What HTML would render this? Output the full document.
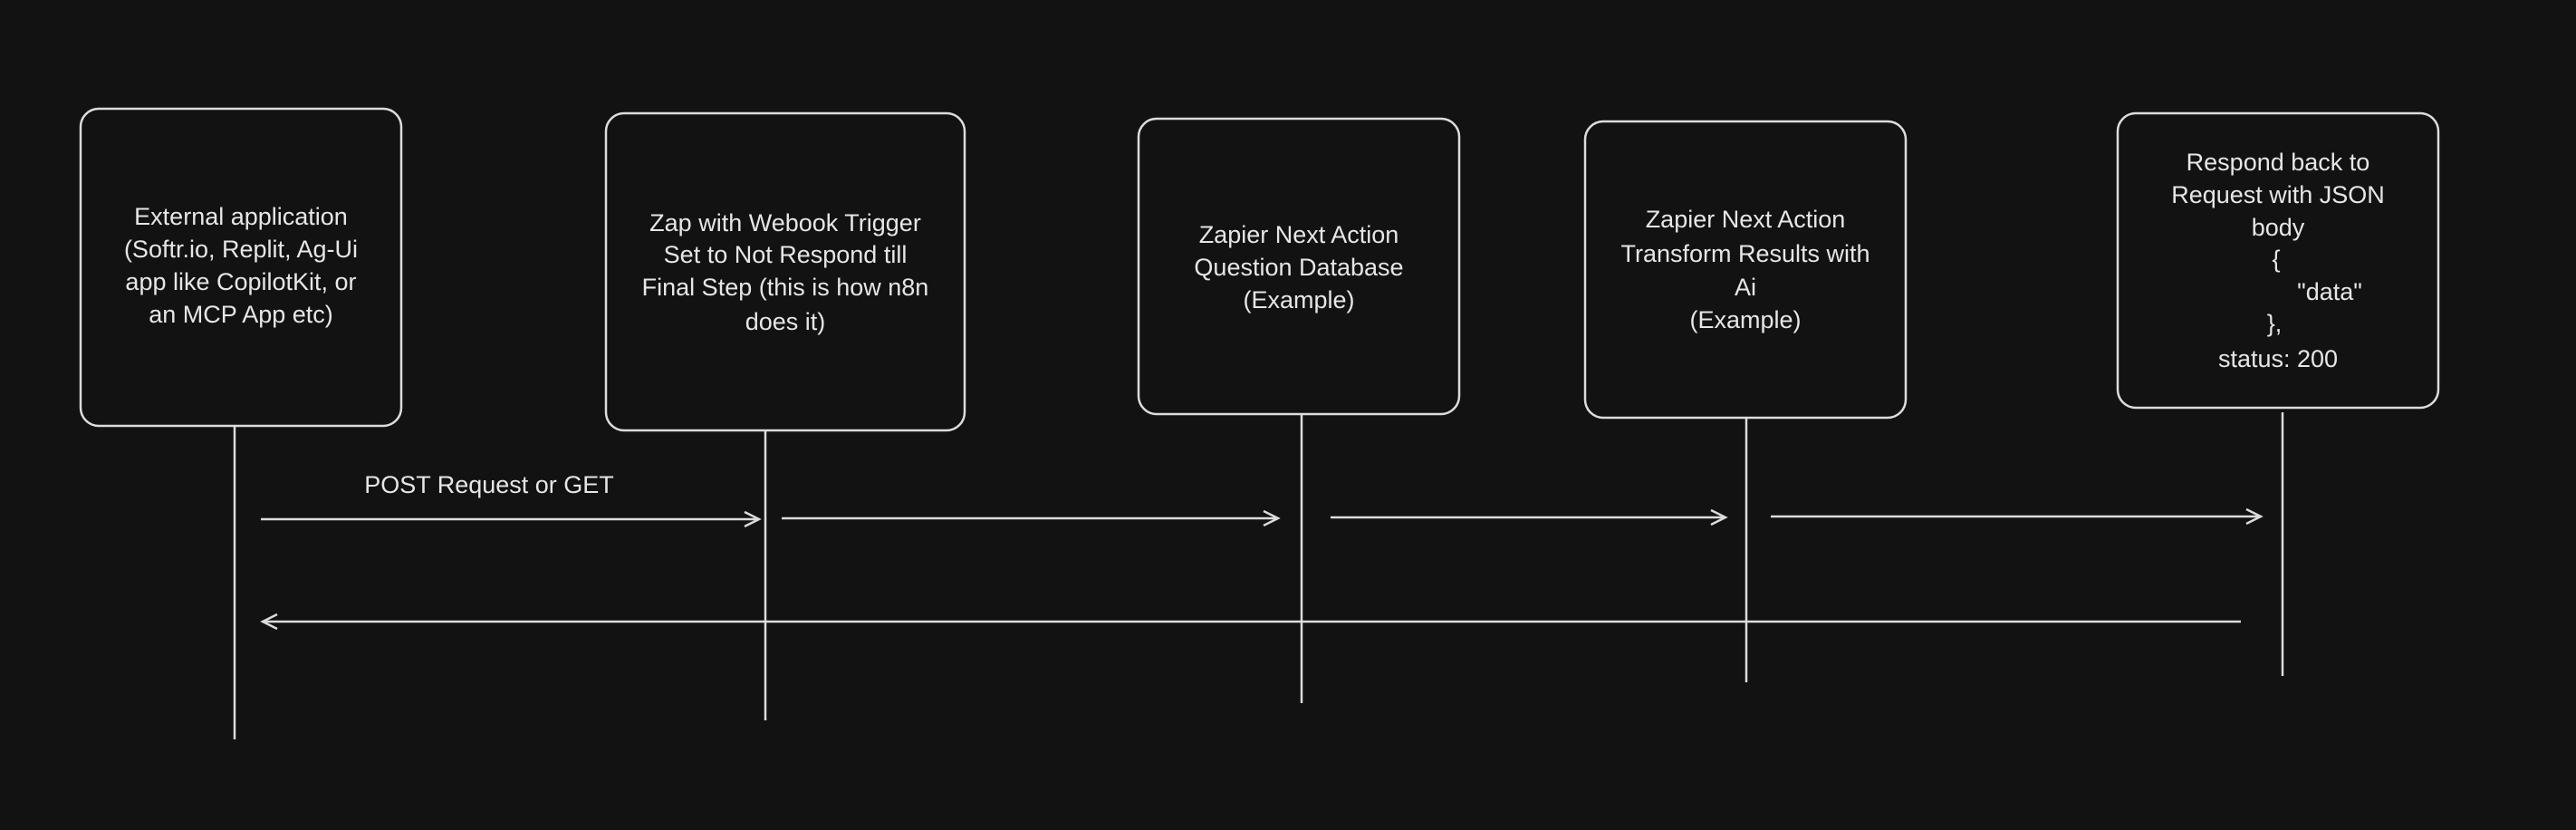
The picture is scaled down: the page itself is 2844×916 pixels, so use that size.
<!DOCTYPE html>
<html><head><meta charset="utf-8"><style>
html,body{margin:0;padding:0;background:#121212;}
svg{display:block}
text{font-family:"Liberation Sans",sans-serif;font-size:27px;fill:#e6e6e6;text-anchor:middle;}
</style></head><body>
<svg width="2844" height="916" viewBox="0 0 2844 916" xmlns="http://www.w3.org/2000/svg">
<rect width="2844" height="916" fill="#121212"/>
<g fill="none" stroke="#dcdcdc" stroke-width="2.5">
<rect x="89" y="120" width="354" height="350" rx="20"/>
<rect x="669" y="125" width="396" height="350" rx="20"/>
<rect x="1257" y="131" width="354" height="326" rx="20"/>
<rect x="1750" y="134" width="354" height="327" rx="20"/>
<rect x="2338" y="125" width="354" height="325" rx="20"/>
<line x1="259" y1="470" x2="259" y2="816"/>
<line x1="845" y1="475" x2="845" y2="795"/>
<line x1="1437" y1="457" x2="1437" y2="776"/>
<line x1="1928" y1="461" x2="1928" y2="753"/>
<line x1="2520" y1="455" x2="2520" y2="746"/>
<line x1="288" y1="573" x2="838" y2="573"/><polyline points="822,565 838,573 822,581"/>
<line x1="863" y1="572" x2="1411" y2="572"/><polyline points="1395,564 1411,572 1395,580"/>
<line x1="1469" y1="571" x2="1905" y2="571"/><polyline points="1889,563 1905,571 1889,579"/>
<line x1="1955" y1="570" x2="2496" y2="570"/><polyline points="2480,562 2496,570 2480,578"/>
<line x1="2474" y1="686" x2="290" y2="686"/><polyline points="306,678 290,686 306,694"/>
</g>
<text x="540" y="544">POST Request or GET</text>
<text x="266" y="248">External application</text>
<text x="266" y="284">(Softr.io, Replit, Ag-Ui</text>
<text x="266" y="320">app like CopilotKit, or</text>
<text x="266" y="356">an MCP App etc)</text>
<text x="867" y="255">Zap with Webook Trigger</text>
<text x="867" y="290">Set to Not Respond till</text>
<text x="867" y="326">Final Step (this is how n8n</text>
<text x="867" y="364">does it)</text>
<text x="1434" y="268">Zapier Next Action</text>
<text x="1434" y="304">Question Database</text>
<text x="1434" y="340">(Example)</text>
<text x="1927" y="251">Zapier Next Action</text>
<text x="1927" y="289">Transform Results with</text>
<text x="1927" y="326">Ai</text>
<text x="1927" y="362">(Example)</text>
<text x="2515" y="188">Respond back to</text>
<text x="2515" y="224">Request with JSON</text>
<text x="2515" y="260">body</text>
<text x="2513" y="295">{</text>
<text x="2572" y="331">"data"</text>
<text x="2511" y="366">},</text>
<text x="2515" y="405">status: 200</text>
</svg>
</body></html>
